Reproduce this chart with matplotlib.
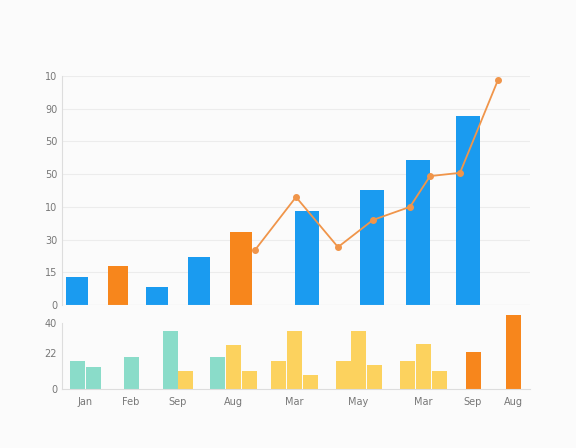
import matplotlib
matplotlib.use("Agg")
import matplotlib.pyplot as plt

# top chart
top_x = [77, 118, 157, 199, 241, 307, 372, 418, 468]
top_vals = [0.86, 1.19, 0.55, 1.47, 2.23, 2.87, 3.52, 4.43, 5.78]
top_colors = ["#1a9bf0", "#f7861c", "#1a9bf0", "#1a9bf0", "#f7861c", "#1a9bf0", "#1a9bf0", "#1a9bf0", "#1a9bf0"]
top_widths = [22, 20, 22, 22, 22, 24, 24, 24, 24]
line_x = [255, 296, 338, 373, 410, 430, 460, 498]
line_vals = [1.68, 3.30, 1.77, 2.60, 3.00, 3.94, 4.04, 6.88]
top_ticklabels = ["0", "15", "30", "10", "50", "50", "90", "10"]

# bottom chart
bot_x = [77, 93, 131, 170, 185, 217, 233, 249, 278, 294, 310, 343, 358, 374, 407, 423, 439, 473, 513]
bot_vals = [16.7, 13.3, 19.3, 35, 10.7, 19.3, 26.7, 10.7, 16.7, 35, 8.7, 16.7, 35, 14.7, 16.7, 27.3, 10.7, 22.7, 44.7]
bot_colors = ["#8adcc9"] * 4 + ["#fcd25e", "#8adcc9"] + ["#fcd25e"] * 11 + ["#f7861c"] * 2
cat_x = [85, 131, 178, 233, 294, 358, 423, 473, 513]
cat_labels = ["Jan", "Feb", "Sep", "Aug", "Mar", "May", "Mar", "Sep", "Aug"]
bot_ticks = [0, 22, 40]
bot_ticklabels = ["0", "22", "40"]

fig = plt.figure(figsize=(5.76, 4.48), dpi=100)
fig.patch.set_facecolor("#fbfbfb")
W, H = 576, 448
ax = fig.add_axes([62 / W, (H - 305) / H, (530 - 62) / W, 229 / H])
ax.set_facecolor("none")
ax.bar(top_x, top_vals, width=top_widths, color=top_colors, zorder=2)
ax.plot(line_x, line_vals, color="#f0954a", lw=1.3, marker="o", ms=4, zorder=3)
ax.set_xlim(62, 530)
ax.set_ylim(0, 7)
ax.set_yticks(range(8))
ax.set_yticklabels(top_ticklabels)
ax.set_xticks([])
ax.grid(axis="y", color="#ececec", lw=0.8, zorder=0)
for s in ["top", "right", "bottom"]:
    ax.spines[s].set_visible(False)
ax.spines["left"].set_color("#dddddd")
ax.axhline(0, color="#dddddd", lw=0.8)
ax.tick_params(axis="y", length=0, labelsize=7, colors="#777777")

ax2 = fig.add_axes([62 / W, (H - 389) / H, (530 - 62) / W, 66 / H])
ax2.set_facecolor("none")
ax2.bar(bot_x, bot_vals, width=15, color=bot_colors, zorder=2, clip_on=False)
ax2.set_xlim(62, 530)
ax2.set_ylim(0, 40)
ax2.set_yticks(bot_ticks)
ax2.set_yticklabels(bot_ticklabels)
ax2.set_xticks(cat_x)
ax2.set_xticklabels(cat_labels)
for s in ["top", "right"]:
    ax2.spines[s].set_visible(False)
ax2.spines["left"].set_color("#dddddd")
ax2.spines["bottom"].set_color("#dddddd")
ax2.tick_params(length=0, labelsize=7, colors="#777777")
ax2.tick_params(axis="x", pad=6)

fig.savefig("out.png", dpi=100, facecolor=fig.get_facecolor())
